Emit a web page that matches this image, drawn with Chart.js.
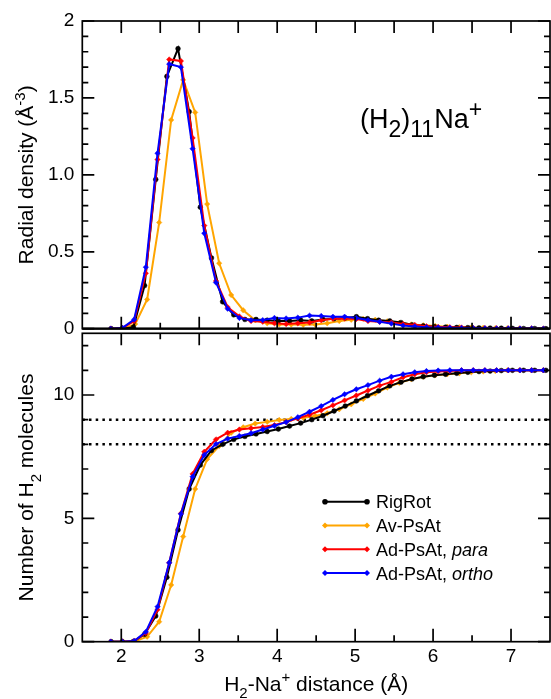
<!DOCTYPE html>
<html>
<head>
<meta charset="utf-8">
<script src="https://cdn.jsdelivr.net/npm/chart.js@4.4.0/dist/chart.umd.min.js"></script>
<style>
  body { margin: 0; background: #fff; }
  #wrap { position: relative; width: 551px; height: 699px; }
  canvas { position: absolute; left: 0; }
  #top { top: 0; }
  #bottom { top: 331px; }
</style>
</head>
<body>
<div id="wrap">
  <canvas id="bottom" width="551" height="368"></canvas>
  <canvas id="top" width="551" height="345"></canvas>
</div>
<script>
// distance grids (Å), one per run
const rRigRot = [1.870, 2.013, 2.156, 2.299, 2.442, 2.585, 2.728, 2.871, 3.014, 3.157,
  3.300, 3.443, 3.586, 3.729, 3.872, 4.015, 4.158, 4.301, 4.444, 4.587,
  4.730, 4.873, 5.016, 5.159, 5.302, 5.445, 5.588, 5.731, 5.874, 6.017,
  6.160, 6.303, 6.446, 6.589, 6.732, 6.875, 7.018, 7.161, 7.304, 7.447];
const rAvPsAt = [1.870, 2.024, 2.178, 2.332, 2.486, 2.640, 2.794, 2.948, 3.102, 3.256,
  3.410, 3.564, 3.718, 3.872, 4.026, 4.180, 4.334, 4.488, 4.642, 4.796,
  4.950, 5.104, 5.258, 5.412, 5.566, 5.720, 5.874, 6.028, 6.182, 6.336,
  6.490, 6.644, 6.798, 6.952, 7.106, 7.260, 7.414];
const rAdPsAt = [1.865, 2.015, 2.165, 2.315, 2.465, 2.615, 2.765, 2.915, 3.065, 3.215,
  3.365, 3.515, 3.665, 3.815, 3.965, 4.115, 4.265, 4.415, 4.565, 4.715,
  4.865, 5.015, 5.165, 5.315, 5.465, 5.615, 5.765, 5.915, 6.065, 6.215,
  6.365, 6.515, 6.665, 6.815, 6.965, 7.115, 7.265, 7.415];

// radial density (Å^-3)
const densRigRot = [0, 0, 0.01, 0.28, 0.97, 1.64, 1.82, 1.41, 0.79, 0.46,
  0.175, 0.09, 0.06, 0.06, 0.055, 0.05, 0.05, 0.055, 0.05, 0.06,
  0.065, 0.07, 0.078, 0.065, 0.055, 0.05, 0.04, 0.025, 0.018, 0.013,
  0.01, 0.008, 0.007, 0.005, 0.004, 0.003, 0.002, 0.001, 0.001, 0];
const densAvPsAt = [0, 0, 0.03, 0.19, 0.69, 1.357, 1.617, 1.406, 0.81, 0.425,
  0.219, 0.12, 0.055, 0.035, 0.028, 0.027, 0.025, 0.027, 0.035, 0.05,
  0.058, 0.064, 0.058, 0.048, 0.038, 0.028, 0.022, 0.018, 0.013, 0.01,
  0.008, 0.006, 0.004, 0.003, 0.002, 0.001, 0];
const densPara = [0, 0.005, 0.05, 0.36, 1.10, 1.75, 1.74, 1.24, 0.67, 0.31,
  0.14, 0.08, 0.05, 0.045, 0.035, 0.03, 0.035, 0.04, 0.055, 0.065,
  0.067, 0.063, 0.05, 0.045, 0.04, 0.03, 0.025, 0.016, 0.012, 0.01,
  0.008, 0.005, 0.004, 0.003, 0.002, 0.001, 0.001, 0];
const densOrtho = [0, 0.005, 0.06, 0.40, 1.14, 1.72, 1.70, 1.17, 0.62, 0.30,
  0.13, 0.07, 0.055, 0.056, 0.07, 0.067, 0.072, 0.085, 0.083, 0.078,
  0.078, 0.07, 0.056, 0.045, 0.033, 0.02, 0.015, 0.01, 0.008, 0.006,
  0.005, 0.004, 0.003, 0.002, 0.002, 0.001, 0.001, 0];

// cumulative number of H2 molecules
const numRigRot = [0, 0, 0.01, 0.3, 1.04, 2.61, 4.53, 6.19, 7.16, 7.75,
  8.0, 8.2, 8.32, 8.42, 8.52, 8.62, 8.74, 8.86, 9.0, 9.16,
  9.35, 9.55, 9.76, 9.97, 10.17, 10.37, 10.52, 10.65, 10.74, 10.8,
  10.84, 10.88, 10.92, 10.95, 10.97, 10.99, 11.0, 11.0, 11.0, 11.0];
const numAvPsAt = [0, 0, 0.02, 0.2, 0.81, 2.3, 4.26, 6.19, 7.4, 7.93,
  8.47, 8.69, 8.84, 8.91, 8.99, 9.03, 9.08, 9.15, 9.26, 9.42,
  9.62, 9.84, 10.06, 10.3, 10.49, 10.64, 10.74, 10.8, 10.84, 10.88,
  10.92, 10.95, 10.97, 11.0, 11.0, 11.0, 11.0];
const numPara = [0, 0, 0.03, 0.35, 1.3, 3.2, 5.2, 6.8, 7.7, 8.2,
  8.47, 8.6, 8.65, 8.7, 8.78, 8.9, 9.05, 9.2, 9.38, 9.58,
  9.78, 9.98, 10.18, 10.38, 10.53, 10.72, 10.84, 10.92, 10.95, 10.97,
  11.0, 11.0, 11.0, 11.0, 11.0, 11.0, 11.0, 11.0];
const numOrtho = [0, 0, 0.03, 0.4, 1.42, 3.2, 5.18, 6.69, 7.57, 8.01,
  8.23, 8.34, 8.45, 8.6, 8.75, 8.9, 9.1, 9.32, 9.55, 9.8,
  10.03, 10.23, 10.4, 10.58, 10.74, 10.84, 10.92, 10.97, 10.99, 11.0,
  11.0, 11.0, 11.0, 11.0, 11.0, 11.0, 11.0, 11.0];

// shell counts marked with dotted lines
const shellLines = [8, 9];

// axes
const xRange = [1.5, 7.5];
const xMajor = [2, 3, 4, 5, 6, 7];
const xMinor = [2.5, 3.5, 4.5, 5.5, 6.5];
const xLabels = ['2', '3', '4', '5', '6', '7'];
const densRange = [0, 2];
const densMajor = [0, 0.5, 1.0, 1.5, 2];
const densLabels = ['0', '0.5', '1.0', '1.5', '2'];
const densMinor = [0.1, 0.2, 0.3, 0.4, 0.6, 0.7, 0.8, 0.9, 1.1, 1.2, 1.3, 1.4, 1.6, 1.7, 1.8, 1.9];
const numRange = [0, 12.5];
const numMajor = [0, 5, 10];
const numLabels = ['0', '5', '10'];
const numMinor = [1, 2, 3, 4, 6, 7, 8, 9, 11, 12];

const FONT = '"Liberation Sans", Arial, Helvetica, sans-serif';

const series = [
  { name: 'RigRot', tag: '', color: '#000000', style: 'circle', r: rRigRot, dens: densRigRot, num: numRigRot, order: 2 },
  { name: 'Av-PsAt', tag: '', color: '#ffa500', style: 'rectRot', r: rAvPsAt, dens: densAvPsAt, num: numAvPsAt, order: 3 },
  { name: 'Ad-PsAt, ', tag: 'para', color: '#ff0000', style: 'rectRot', r: rAdPsAt, dens: densPara, num: numPara, order: 1 },
  { name: 'Ad-PsAt, ', tag: 'ortho', color: '#0000ff', style: 'rectRot', r: rAdPsAt, dens: densOrtho, num: numOrtho, order: 0 }
];

function points(xs, ys) {
  return xs.map((x, i) => ({ x: x, y: ys[i] }));
}

function makeDatasets(key) {
  return series.map(s => ({
    label: s.name + s.tag,
    data: points(s.r, s[key]),
    borderColor: s.color,
    backgroundColor: s.color,
    borderWidth: 2,
    pointStyle: s.style,
    pointRadius: s.style === 'circle' ? 2.4 : 2.7,
    pointBorderWidth: 0.5,
    tension: 0,
    order: s.order
  }));
}

// text with sub/superscript and italic runs: parts = [[text, mode], ...]
function richText(ctx, parts, x, y, size, align, small) {
  const sm = small || 0.72;
  const fontFor = m => (m === 'it' ? 'italic ' : '') +
    (m === 'sub' || m === 'sup' ? Math.round(size * sm) : size) + 'px ' + FONT;
  let w = 0;
  parts.forEach(([t, m]) => { ctx.font = fontFor(m); w += ctx.measureText(t).width; });
  let cx = align === 'center' ? x - w / 2 : x;
  ctx.textAlign = 'left';
  ctx.textBaseline = 'alphabetic';
  ctx.fillStyle = '#000';
  parts.forEach(([t, m]) => {
    ctx.font = fontFor(m);
    const dy = m === 'sub' ? size * 0.34 : (m === 'sup' ? -size * 0.42 : 0);
    ctx.fillText(t, cx, y + dy);
    cx += ctx.measureText(t).width;
  });
}

// frame with inward ticks on all four sides
function framePlugin(spec) {
  return {
    id: 'frame',
    beforeDatasetsDraw(chart) {
      if (!spec.hlines) return;
      const { ctx, chartArea: a } = chart;
      ctx.save();
      ctx.strokeStyle = '#000';
      ctx.lineWidth = 2.5;
      ctx.setLineDash([2.5, 4.2]);
      spec.hlines.forEach(v => {
        const y = chart.scales.y.getPixelForValue(v);
        ctx.beginPath();
        ctx.moveTo(a.left, y);
        ctx.lineTo(a.right, y);
        ctx.stroke();
      });
      ctx.restore();
    },
    afterDraw(chart) {
      const { ctx, chartArea: a } = chart;
      const xs = chart.scales.x, ys = chart.scales.y;
      ctx.save();
      ctx.strokeStyle = '#000';
      ctx.lineWidth = 1.7;
      ctx.beginPath();
      spec.xTop.forEach(([v, len]) => {
        const p = xs.getPixelForValue(v);
        ctx.moveTo(p, a.top); ctx.lineTo(p, a.top + len);
      });
      spec.xBottom.forEach(([v, len]) => {
        const p = xs.getPixelForValue(v);
        ctx.moveTo(p, a.bottom); ctx.lineTo(p, a.bottom - len);
      });
      spec.y.forEach(([v, len]) => {
        const p = ys.getPixelForValue(v);
        ctx.moveTo(a.left, p); ctx.lineTo(a.left + len, p);
        ctx.moveTo(a.right, p); ctx.lineTo(a.right - len, p);
      });
      ctx.stroke();
      ctx.strokeRect(a.left, a.top, a.right - a.left, a.bottom - a.top);
      if (spec.heavyBottom) {
        ctx.lineWidth = 2.3;
        ctx.beginPath();
        ctx.moveTo(a.left, a.bottom); ctx.lineTo(a.right, a.bottom);
        ctx.stroke();
      }
      ctx.restore();
      if (spec.extra) spec.extra(chart);
    }
  };
}

const MAJ = 12, MIN = 6;
const ticksOf = (vals, len) => vals.map(v => [v, len]);

function xScale(display) {
  return {
    type: 'linear',
    min: xRange[0],
    max: xRange[1],
    display: display,
    afterBuildTicks: s => { s.ticks = xMajor.map(v => ({ value: v })); },
    afterFit: s => {
      if (display) s.height = 57.3;
      s.paddingLeft = 0;
      s.paddingRight = 0;
    },
    grid: { display: false, drawTicks: false },
    border: { display: false },
    ticks: {
      padding: 4,
      color: '#000',
      font: { family: FONT, size: 19 },
      maxRotation: 0,
      callback: (v, i) => xLabels[i]
    }
  };
}

function yScale(range, major, labels) {
  return {
    type: 'linear',
    min: range[0],
    max: range[1],
    afterBuildTicks: s => { s.ticks = major.map(v => ({ value: v })); },
    afterFit: s => {
      s.width = 82.3;
      s.paddingTop = 0;
      s.paddingBottom = 0;
    },
    grid: { display: false, drawTicks: false },
    border: { display: false },
    ticks: {
      padding: 8,
      color: '#000',
      font: { family: FONT, size: 19 },
      callback: (v, i) => labels[i]
    }
  };
}

const common = {
  animation: false,
  responsive: false,
  devicePixelRatio: 1,
  events: [],
  plugins: { legend: { display: false }, tooltip: { enabled: false } }
};

// upper panel: radial density
new Chart(document.getElementById('top'), {
  type: 'line',
  data: { datasets: makeDatasets('dens') },
  options: Object.assign({}, common, {
    layout: { autoPadding: false, padding: { top: 21, right: 1, bottom: 16.3, left: 0 } },
    scales: { x: xScale(false), y: yScale(densRange, densMajor, densLabels) }
  }),
  plugins: [framePlugin({
    xTop: ticksOf(xMajor.concat(xMinor), MAJ),
    xBottom: ticksOf(xMajor, MAJ).concat(ticksOf(xMinor, MIN)),
    y: ticksOf(densMajor, MAJ).concat(ticksOf(densMinor, MIN)),
    heavyBottom: true,
    extra(chart) {
      const { ctx, chartArea: a } = chart;
      ctx.save();
      ctx.translate(33.4, (a.top + a.bottom) / 2);
      ctx.rotate(-Math.PI / 2);
      richText(ctx, [['Radial density (Å', 'n'], ['-3', 'sup'], [')', 'n']], 0, 0, 21, 'center');
      ctx.restore();
      richText(ctx, [['(H', 'n'], ['2', 'sub'], [')', 'n'], ['11', 'sub'], ['Na', 'n'], ['+', 'sup']],
        360, 128.3, 27, 'left', 0.85);
    }
  })]
});

// lower panel: running number of molecules
new Chart(document.getElementById('bottom'), {
  type: 'line',
  data: { datasets: makeDatasets('num') },
  options: Object.assign({}, common, {
    layout: { autoPadding: false, padding: { top: 2.3, right: 1, bottom: 0, left: 0 } },
    scales: { x: xScale(true), y: yScale(numRange, numMajor, numLabels) }
  }),
  plugins: [framePlugin({
    xTop: ticksOf(xMajor, MAJ).concat(ticksOf(xMinor, MIN)),
    xBottom: ticksOf(xMajor, 13).concat(ticksOf(xMinor, MIN + 0.5)),
    y: ticksOf(numMajor, MAJ).concat(ticksOf(numMinor, MIN)),
    hlines: shellLines,
    extra(chart) {
      const { ctx, chartArea: a } = chart;
      ctx.save();
      ctx.translate(33.4, (a.top + a.bottom) / 2);
      ctx.rotate(-Math.PI / 2);
      richText(ctx, [['Number of H', 'n'], ['2', 'sub'], [' molecules', 'n']], 0, 0, 21, 'center');
      ctx.restore();
      richText(ctx, [['H', 'n'], ['2', 'sub'], ['-Na', 'n'], ['+', 'sup'], [' distance (Å)', 'n']],
        (a.left + a.right) / 2, a.bottom + 49, 21, 'center');

      // legend
      const rowY = [170.7, 194.5, 218.3, 242.1];
      series.forEach((s, i) => {
        const y = rowY[i];
        ctx.save();
        ctx.strokeStyle = s.color;
        ctx.fillStyle = s.color;
        ctx.lineWidth = 2;
        ctx.beginPath();
        ctx.moveTo(325, y); ctx.lineTo(367, y);
        ctx.stroke();
        [325, 367].forEach(px => {
          ctx.beginPath();
          if (s.style === 'circle') {
            ctx.arc(px, y, 2.8, 0, Math.PI * 2);
          } else {
            ctx.moveTo(px, y - 3); ctx.lineTo(px + 3, y);
            ctx.lineTo(px, y + 3); ctx.lineTo(px - 3, y);
            ctx.closePath();
          }
          ctx.fill();
        });
        ctx.restore();
        const parts = [[s.name, 'n']];
        if (s.tag) parts.push([s.tag, 'it']);
        richText(ctx, parts, 376, y + 6.5, 18, 'left');
      });
    }
  })]
});
</script>
</body>
</html>
